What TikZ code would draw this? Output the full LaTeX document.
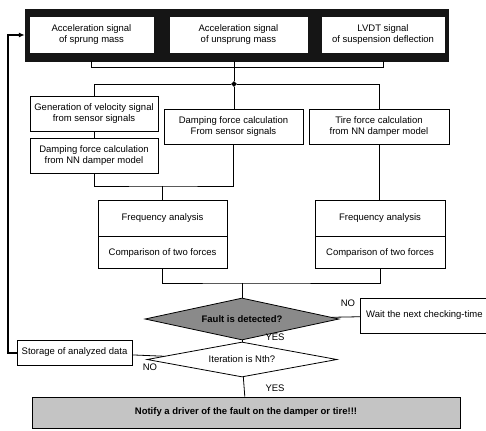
\documentclass[tikz,border=0pt]{standalone}
\usepackage{fontspec}
\setmainfont{Liberation Sans}
\usepackage{xcolor}
\usepackage{tikz}
\usetikzlibrary{positioning,arrows.meta,shapes.geometric}
\definecolor{bandblack}{HTML}{151515}
\definecolor{faultgrey}{HTML}{8A8A8A}
\definecolor{notegrey}{HTML}{C4C4C4}
\newcommand\boxfont{\fontsize{9.5}{11.5}\selectfont}
\tikzset{
  box/.style    = {draw, rectangle, align=center, font=\boxfont, fill=white,
                   inner sep=2pt, line width=0.8pt, minimum height=35pt},
  sig/.style    = {box, draw=white},
  band/.style   = {rectangle, fill=bandblack, draw=bandblack},
  cell/.style   = {box, minimum height=36pt},
  dec/.style    = {diamond, draw, font=\boxfont, inner sep=0pt, line width=0.8pt,
                   shape aspect=4.8},
  dot/.style    = {diamond, fill=black, inner sep=0pt, minimum size=6pt},
  ln/.style     = {line width=0.8pt},
  arr/.style    = {-{Latex[length=6pt,width=5pt]}, line width=2pt},
  lab/.style    = {font=\boxfont, inner sep=1pt},
}

\begin{document}
\begin{tikzpicture}[x=1pt,y=-1pt]
  \useasboundingbox (0,0) rectangle (486,430);
  % ---------------- Sensor signals ----------------
  \node[band, minimum width=423pt, minimum height=52pt] (band) at (236.5,35) {};
  \node[sig, minimum width=123pt] (s1) at (91.5,34.5) {Acceleration signal\\of sprung mass};
  \node[sig, minimum width=137pt] (s2) at (238.5,34.5) {Acceleration signal\\of unsprung mass};
  \node[sig, minimum width=122pt] (s3) at (383,34.5) {LVDT signal\\of suspension deflection};
  \draw[ln] (s1 |- band.south) -- ++(0,6) -| (s3 |- band.south);
  \node[dot] (jn) at (234,84) {};
  \draw[ln] (jn |- band.south) -- (jn);

  % ---------------- Force calculation ----------------
  \node[box, minimum width=128pt] (vel) at (94,113.5) {Generation of velocity signal\\from sensor signals};
  \node[box, minimum width=128pt] (dnn) at (94,155.5) {Damping force calculation\\from NN damper model};
  \node[box, minimum width=139pt] (dsens) at (233.5,126.5) {Damping force calculation\\From sensor signals};
  \node[box, minimum width=140pt] (tire) at (379,126.5) {Tire force calculation\\from NN damper model};
  \draw[ln] (vel.north) |- (jn) -| (tire.north);
  \draw[ln] (jn) -- (jn |- dsens.north);
  \draw[ln] (vel) -- (dnn);

  % ---------------- Frequency analysis ----------------
  \node[cell, minimum width=129pt] (fa1) at (162.5,218) {Frequency analysis};
  \node[cell, minimum width=129pt, minimum height=32pt, below=0pt of fa1] (cp1) {Comparison of two forces};
  \node[cell, minimum width=130pt] (fa2) at (380,218) {Frequency analysis};
  \node[cell, minimum width=130pt, minimum height=32pt, below=0pt of fa2] (cp2) {Comparison of two forces};
  \coordinate (j2) at (162.5,186);
  \draw[ln] (dnn.south) |- (j2) -| (dsens.south);
  \draw[ln] (j2) -- (fa1);
  \draw[ln] (tire.south) -- (tire.south |- fa2.north);

  % ---------------- Decisions ----------------
  \node[dec, fill=faultgrey, minimum width=194pt, minimum height=42pt, font=\boxfont\bfseries] (fault) at (242,319) {Fault is detected?};
  \node[dec, fill=white, minimum width=190pt, minimum height=35pt, shape aspect=5.4] (iter) at (242,359.5) {Iteration is Nth?};
  \node[box, anchor=west, minimum width=128pt] (wait) at (360,315.5) {Wait the next checking-time};
  \node[box, minimum width=115pt, minimum height=25pt] (store) at (74.5,352.5) {Storage of analyzed data};
  \node[box, fill=notegrey, minimum width=428pt, minimum height=31pt, font=\boxfont\bfseries] (notify) at (246,412.5)
    {Notify a driver of the fault on the damper or tire!!!};
  \coordinate (j3) at (242,283);
  \draw[ln] (cp1.south) |- (j3) -| (cp2.south);
  \draw[ln] (j3) -- (fault);
  \draw[ln] (fault) -- (wait);
  \draw[ln] (fault) -- (iter);
  \draw[ln] (iter) -- (store);
  \draw[ln] (iter) -- (notify);
  \node[lab] (no1) at (348,303) {NO};
  \node[lab] (yes1) at (275,337) {YES};
  \node[lab] (no2) at (150,367) {NO};
  \node[lab] (yes2) at (275,388) {YES};

  % ---------------- Feedback loop ----------------
  \draw[arr] (store.west) -- ++(-9,0) |- (band.west);
\end{tikzpicture}
\end{document}
